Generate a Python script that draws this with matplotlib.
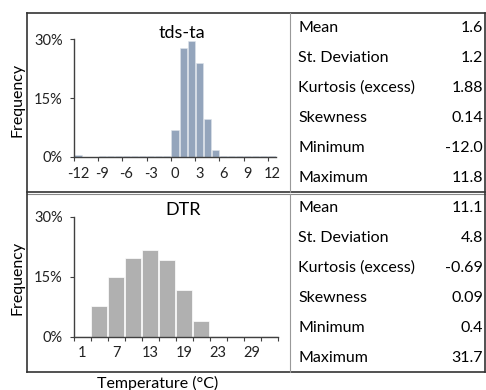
import matplotlib
matplotlib.use("Agg")
import matplotlib.pyplot as plt
from matplotlib.lines import Line2D

plt.rcParams['font.family'] = ['Lato', 'DejaVu Sans']

# top panel: tds - ta
tds_cats = list(range(-12, 13))
tds_freq = [0.4, 0, 0, 0.3, 0.3, 0.3, 0.3, 0.3, 0.3, 0.3, 0.3, 0.3,
            6.8, 27.6, 29.5, 24.0, 9.6, 1.9,
            0.3, 0.3, 0.3, 0.3, 0.3, 0.3, 0.3]
tds_ticklabels = ["-12", "-9", "-6", "-3", "0", "3", "6", "9", "12"]

# bottom panel: DTR
dtr_freq = [0.3, 7.8, 15.0, 19.8, 21.7, 19.3, 11.8, 3.9, 0.3, 0.3, 0.3, 0.3]
dtr_ticklabels = ["1", "", "7", "", "13", "", "19", "", "23", "", "29", ""]

stat_names = ["Mean", "St. Deviation", "Kurtosis (excess)", "Skewness", "Minimum", "Maximum"]
tds_stats = ["1.6", "1.2", "1.88", "0.14", "-12.0", "11.8"]
dtr_stats = ["11.1", "4.8", "-0.69", "0.09", "0.4", "31.7"]

W, H = 486, 390
fig = plt.figure(figsize=(W / 100, H / 100), dpi=100)


def px_axes(x0, y_top, x1, y_bot):
    return fig.add_axes([x0 / W, 1 - y_bot / H, (x1 - x0) / W, (y_bot - y_top) / H])


def style(ax):
    for s in ["top", "right"]:
        ax.spines[s].set_visible(False)
    for s in ["left", "bottom"]:
        ax.spines[s].set_color("#404040")
        ax.spines[s].set_linewidth(1.0)
    ax.set_ylim(0, 30)
    ax.set_yticks([0, 15, 30])
    ax.set_yticklabels(["0%", "15%", "30%"])
    ax.tick_params(axis="both", direction="out", length=3, color="#404040",
                   labelsize=10.5, labelcolor="#222222", pad=5)


tpos = list(range(len(tds_cats)))
ax1 = px_axes(74, 39, 276, 157)
ax1.bar(tpos, tds_freq, width=0.88, color="#94a5bc", edgecolor="#dde3ea", linewidth=0.4)
ax1.set_xlim(-0.5, len(tds_cats) - 0.5)
style(ax1)
ax1.set_xticks([p - 0.5 for p in tpos[::3]])
ax1.set_xticklabels([])
ax1.set_xticks(tpos[::3], minor=True)
ax1.set_xticklabels(tds_ticklabels, minor=True)
ax1.tick_params(axis="x", which="minor", length=0, labelsize=10.5, labelcolor="#222222", pad=7)

dpos = list(range(len(dtr_freq)))
ax2 = px_axes(74, 216.7, 277.7, 336.7)
ax2.bar(dpos, dtr_freq, width=0.94, color="#b0b0b0", edgecolor="white", linewidth=0.5)
ax2.set_xlim(-0.5, len(dtr_freq) - 0.5)
style(ax2)
ax2.set_xticks([p - 0.5 for p in dpos] + [len(dpos) - 0.5])
ax2.set_xticklabels([])
ax2.set_xticks(dpos, minor=True)
ax2.set_xticklabels(dtr_ticklabels, minor=True)
ax2.tick_params(axis="x", which="minor", length=0, labelsize=10.5, labelcolor="#222222", pad=7)

fig.text(182 / W, 1 - 33 / H, "tds-ta", ha="center", va="center", fontsize=13)
fig.text(183 / W, 1 - 210 / H, "DTR", ha="center", va="center", fontsize=13)
fig.text(17 / W, 1 - 100 / H, "Frequency", rotation=90, ha="center", va="center", fontsize=11.5)
fig.text(17 / W, 1 - 278 / H, "Frequency", rotation=90, ha="center", va="center", fontsize=11.5)
fig.text(158 / W, 1 - 383 / H, "Temperature (\u00b0C)", ha="center", va="center", fontsize=11.5)

# table text
for i, name in enumerate(stat_names):
    for y0, vals in [(28, tds_stats), (208, dtr_stats)]:
        y = 1 - (y0 + 30 * i) / H
        fig.text(298 / W, y, name, ha="left", va="center", fontsize=11.5)
        fig.text(483 / W, y, vals[i], ha="right", va="center", fontsize=11.5)


def hline(y, x0, x1, color="#333333", lw=1.2):
    fig.add_artist(Line2D([x0 / W, x1 / W], [1 - y / H, 1 - y / H], color=color, lw=lw))


def vline(x, y0, y1, color="#333333", lw=1.2):
    fig.add_artist(Line2D([x / W, x / W], [1 - y0 / H, 1 - y1 / H], color=color, lw=lw))


hline(13, 27, 485)
hline(191.5, 27, 485)
hline(194, 27, 485, color="#888888", lw=0.8)
hline(372, 27, 485)
vline(27, 13, 372)
vline(485, 13, 372)
vline(290, 13, 191.5, color="#999999", lw=0.8)
vline(290, 194, 372, color="#999999", lw=0.8)

fig.savefig("out.png", dpi=100)
